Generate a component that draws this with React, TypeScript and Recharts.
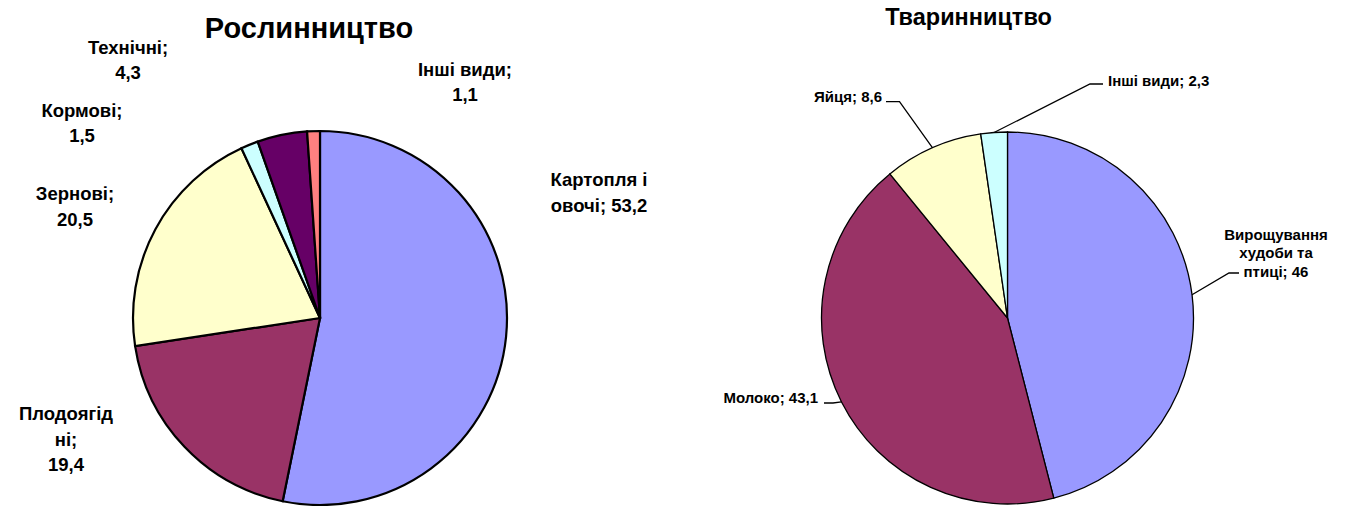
import { Cell, Pie, PieChart } from "recharts";

// Рослинництво
const PLANT_NAMES = ["Картопля і овочі", "Плодоягідні", "Зернові", "Кормові", "Технічні", "Інші види"];
const PLANT_VALUES = [53.2, 19.4, 20.5, 1.5, 4.3, 1.1];
const PLANT_LABELS = [
  ["Картопля і", "овочі; 53,2"],
  ["Плодоягід", "ні;", "19,4"],
  ["Зернові;", "20,5"],
  ["Кормові;", "1,5"],
  ["Технічні;", "4,3"],
  ["Інші види;", "1,1"],
];
const PLANT_COLORS = ["#9999FF", "#993366", "#FFFFCC", "#CCFFFF", "#660066", "#FF8080"];

// Тваринництво
const ANIMAL_NAMES = ["Вирощування худоби та птиці", "Молоко", "Яйця", "Інші види"];
const ANIMAL_VALUES = [46, 43.1, 8.6, 2.3];
const ANIMAL_LABELS = [["Вирощування", "худоби та", "птиці; 46"], ["Молоко; 43,1"], ["Яйця; 8,6"], ["Інші види; 2,3"]];
const ANIMAL_COLORS = ["#9999FF", "#993366", "#FFFFCC", "#CCFFFF"];

const plantData = PLANT_NAMES.map((name, i) => ({ name, value: PLANT_VALUES[i] }));
const animalData = ANIMAL_NAMES.map((name, i) => ({ name, value: ANIMAL_VALUES[i] }));

const FONT = "'Liberation Sans', Arial, sans-serif";
const RAD = Math.PI / 180;

// label placement, relative to the pie centre (first-line baseline)
const PLANT_LABEL_POS = [
  { dx: 279, dy: -132 },
  { dx: -254, dy: 102 },
  { dx: -245, dy: -118 },
  { dx: -238, dy: -201.5 },
  { dx: -192, dy: -264.5 },
  { dx: 145, dy: -242.5 },
];

// text anchor, elbow of the leader line and the end of its short horizontal tail
const ANIMAL_LABEL_POS: Array<{ dx: number; dy: number; anchor: "start" | "middle" | "end"; bx: number; by: number; tx: number }> = [
  { dx: 268.5, dy: -78, anchor: "middle", bx: 221.5, by: -45, tx: 231.5 },
  { dx: -189.5, dy: 85, anchor: "end", bx: -174.5, by: 85, tx: -183.5 },
  { dx: -125.5, dy: -216.5, anchor: "end", bx: -108, by: -216.3, tx: -121.5 },
  { dx: 100.5, dy: -232, anchor: "start", bx: 82.5, by: -234, tx: 95.5 },
];

function plantLabel(p: any) {
  const pos = PLANT_LABEL_POS[p.index];
  const x = p.cx + pos.dx;
  return (
    <text x={x} y={p.cy + pos.dy} textAnchor="middle" fontSize={18.5} fontWeight="bold" fill="#000" fontFamily={FONT}>
      {PLANT_LABELS[p.index].map((line, i) => (
        <tspan key={i} x={x} dy={i === 0 ? 0 : 25.5}>
          {line}
        </tspan>
      ))}
    </text>
  );
}

function animalLabel(p: any) {
  const pos = ANIMAL_LABEL_POS[p.index];
  const ex = p.cx + p.outerRadius * Math.cos(-p.midAngle * RAD);
  const ey = p.cy + p.outerRadius * Math.sin(-p.midAngle * RAD);
  const bx = p.cx + pos.bx;
  const by = p.cy + pos.by;
  const tx = p.cx + pos.tx;
  const x = p.cx + pos.dx;
  return (
    <g>
      <polyline points={`${ex},${ey} ${bx},${by} ${tx},${by}`} fill="none" stroke="#000" strokeWidth={1.3} />
      <text x={x} y={p.cy + pos.dy} textAnchor={pos.anchor} fontSize={15} fontWeight="bold" fill="#000" fontFamily={FONT}>
        {ANIMAL_LABELS[p.index].map((line, i) => (
          <tspan key={i} x={x} dy={i === 0 ? 0 : 18.3}>
            {line}
          </tspan>
        ))}
      </text>
    </g>
  );
}

export default function App() {
  return (
    <div style={{ width: 1345, height: 506, background: "#fff" }}>
      <style>{"body{margin:0}"}</style>
      <PieChart width={1345} height={506} margin={{ top: 0, right: 0, bottom: 0, left: 0 }}>
        <text x={309} y={38} textAnchor="middle" fontSize={29} fontWeight="bold" fontFamily={FONT} fill="#000">
          Рослинництво
        </text>
        <text x={968.5} y={25} textAnchor="middle" fontSize={23.5} fontWeight="bold" fontFamily={FONT} fill="#000">
          Тваринництво
        </text>
        <Pie
          data={plantData}
          dataKey="value"
          nameKey="name"
          cx={320}
          cy={318}
          outerRadius={187}
          startAngle={90}
          endAngle={-270}
          stroke="#000"
          strokeWidth={2.2}
          label={plantLabel}
          labelLine={false}
          isAnimationActive={false}
        >
          {plantData.map((d, i) => (
            <Cell key={d.name} fill={PLANT_COLORS[i]} />
          ))}
        </Pie>
        <Pie
          data={animalData}
          dataKey="value"
          nameKey="name"
          cx={1007.5}
          cy={318}
          outerRadius={186}
          startAngle={90}
          endAngle={-270}
          stroke="#000"
          strokeWidth={1.3}
          label={animalLabel}
          labelLine={false}
          isAnimationActive={false}
        >
          {animalData.map((d, i) => (
            <Cell key={d.name} fill={ANIMAL_COLORS[i]} />
          ))}
        </Pie>
      </PieChart>
    </div>
  );
}
